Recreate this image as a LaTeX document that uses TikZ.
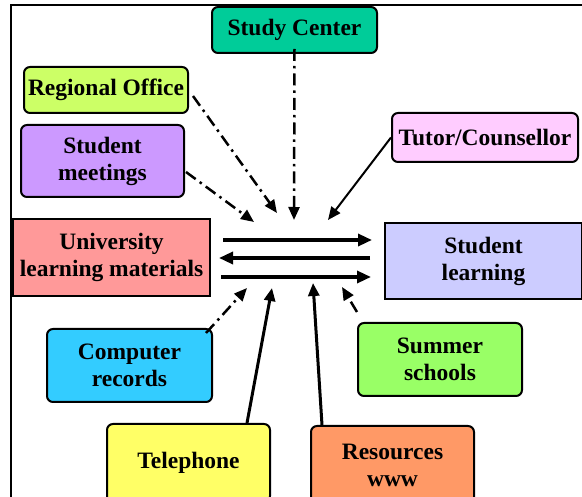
\documentclass[tikz,border=0pt]{standalone}
\usepackage{fontspec}
\setmainfont{Liberation Serif}
\usetikzlibrary{arrows.meta,calc}
\definecolor{cSC}{HTML}{00CC99}
\definecolor{cRO}{HTML}{CCFF66}
\definecolor{cSM}{HTML}{CC99FF}
\definecolor{cTC}{HTML}{FFCCFF}
\definecolor{cULM}{HTML}{FF9999}
\definecolor{cSL}{HTML}{CCCCFF}
\definecolor{cCR}{HTML}{33CCFF}
\definecolor{cTE}{HTML}{FFFF66}
\definecolor{cSS}{HTML}{99FF66}
\definecolor{cRW}{HTML}{FF9966}
\tikzset{
  box/.style={draw=black, line width=2pt, rounded corners=6pt, inner sep=0pt, align=center,
    font=\fontsize{23.5}{27}\selectfont\bfseries},
  sharpbox/.style={box, rounded corners=0pt},
  dd/.style={line width=2.5pt, dash pattern=on 12pt off 5pt on 2.5pt off 5pt, -{Triangle[length=13pt,width=11pt]}},
  solid arrow/.style={line width=3pt, -{Triangle[length=13pt,width=11pt]}},
  thin arrow/.style={line width=2pt, -{Triangle[length=13pt,width=11pt]}},
  hline/.style={line width=3.3pt},
}
\begin{document}
\begin{tikzpicture}[x=1pt,y=-1pt]
\useasboundingbox (0,0) rectangle (582,497);
\clip (0,0) rectangle (582,497);
\fill[white] (0,0) rectangle (582,497);
% frame
\draw[line width=1.5pt] (11,510) -- (11,5) -- (590,5);
% boxes
\node[box, fill=cSC, minimum width=165pt, minimum height=46pt] (sc) at (294.5,30) {Study Center};
\node[box, fill=cRO, minimum width=164pt, minimum height=46pt] (ro) at (106,90) {Regional Office};
\node[box, fill=cSM, minimum width=163pt, minimum height=72pt] (sm) at (102.5,161) {Student\\meetings};
\node[box, fill=cTC, minimum width=186pt, minimum height=49pt] (tc) at (485,137.5) {Tutor/Counsellor};
\node[sharpbox, fill=cULM, minimum width=197pt, minimum height=77pt] (ulm) at (111.5,257.5) {University\\learning materials};
\node[sharpbox, fill=cSL, minimum width=197pt, minimum height=76pt] (sl) at (483.5,261) {Student\\learning};
\node[box, fill=cCR, minimum width=165pt, minimum height=73pt] (cr) at (129.5,365.5) {Computer\\records};
\node[box, fill=cTE, minimum width=163pt, minimum height=78pt] (te) at (188.5,463) {Telephone};
\node[box, fill=cSS, minimum width=164pt, minimum height=73pt] (ss) at (440,359.5) {Summer\\schools};
\node[box, fill=cRW, minimum width=163pt, minimum height=78pt] (rw) at (392.5,465) {Resources\\www};
% central coordinates
\coordinate (h1l) at (223,240); \coordinate (h1r) at (372,240);
\coordinate (h2l) at (219,258); \coordinate (h2r) at (370,258);
\coordinate (h3l) at (221,277); \coordinate (h3r) at (371,277);
\coordinate (tSC) at (294,220);
\coordinate (tRO) at (277,213);
\coordinate (tSM) at (254,222);
\coordinate (tTC) at (328,220);
\coordinate (tCR) at (247,288);
\coordinate (tTE) at (272,288);
\coordinate (tRW) at (313,283);
\coordinate (tSS) at (342,287);
% horizontal arrows
\draw[hline, -{Triangle[length=14pt,width=12pt]}] (h1l) -- (h1r);
\draw[hline, -{Triangle[length=14pt,width=12pt]}] (h2r) -- (h2l);
\draw[hline, -{Triangle[length=14pt,width=12pt]}] (h3l) -- (h3r);
% connectors
\draw[dd] ([yshift=5]sc.south) -- (tSC);
\draw[dd] ([shift={(4,6)}]ro.east) -- (tRO);
\draw[dd] ([shift={(1,11)}]sm.east) -- (tSM);
\draw[thin arrow] (tc.west) -- (tTC);
\draw[dd] ([shift={(-7,5)}]cr.north east) -- (tCR);
\draw[solid arrow] ([xshift=58.5]te.north) -- (tTE);
\draw[solid arrow] ([xshift=12]rw.north west) -- (tRW);
\draw[dd] ([yshift=10]ss.north west) -- (tSS);
\end{tikzpicture}
\end{document}
